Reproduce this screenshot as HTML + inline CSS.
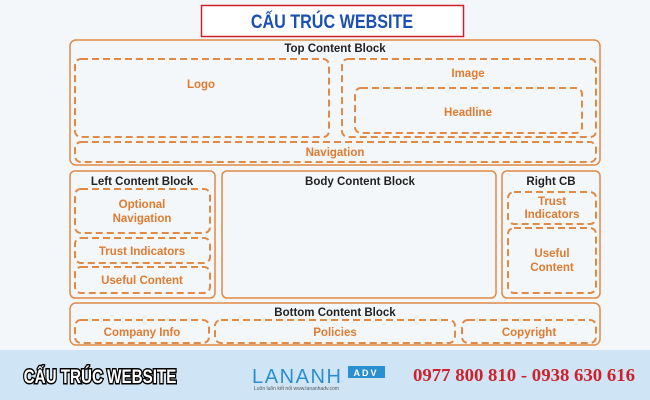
<!DOCTYPE html>
<html><head><meta charset="utf-8"><style>
body{margin:0;width:650px;height:400px;overflow:hidden;background:#f4f7fa;}
svg{display:block}
text{font-family:"Liberation Sans",sans-serif;font-weight:bold;}
</style></head><body>
<svg width="650" height="400" viewBox="0 0 650 400">
<rect x="0" y="0" width="650" height="400" fill="#f4f7fa"/>
<rect x="201.5" y="5.5" width="262" height="31" fill="#fff" stroke="#d0202a" stroke-width="1.5"/>
<text x="332" y="28" text-anchor="middle" font-size="19" fill="#1a4fb5" transform="translate(332 0) scale(0.85 1) translate(-332 0)">CẤU TRÚC WEBSITE</text>
<g fill="none" stroke="#e08a45" stroke-width="1.5">
<rect x="70" y="40" width="530" height="125" rx="6"/>
<rect x="70" y="171" width="145" height="127" rx="5"/>
<rect x="222" y="171" width="274" height="127" rx="5"/>
<rect x="502" y="171" width="98" height="127" rx="5"/>
<rect x="70" y="303" width="530" height="42" rx="6"/>
</g>
<g fill="none" stroke="#e08a45" stroke-width="2" stroke-dasharray="7 4">
<rect x="75" y="59" width="254" height="78" rx="6"/>
<rect x="342" y="59" width="254" height="78" rx="6"/>
<rect x="355" y="88" width="227" height="45" rx="6"/>
<rect x="75" y="142" width="521" height="20" rx="6"/>
<rect x="75" y="189" width="135" height="44" rx="6"/>
<rect x="75" y="238" width="135" height="25" rx="6"/>
<rect x="75" y="267" width="135" height="26" rx="6"/>
<rect x="508" y="192" width="88" height="32" rx="6"/>
<rect x="508" y="228" width="88" height="65" rx="6"/>
<rect x="75" y="320" width="134" height="23" rx="6"/>
<rect x="215" y="320" width="240" height="23" rx="6"/>
<rect x="462" y="320" width="134" height="23" rx="6"/>
</g>
<g font-size="11.5" fill="#222" text-anchor="middle">
<text x="335" y="52">Top Content Block</text>
<text x="142" y="185">Left Content Block</text>
<text x="360" y="185">Body Content Block</text>
<text x="551" y="185">Right CB</text>
<text x="335" y="316">Bottom Content Block</text>
</g>
<g font-size="11.5" fill="#e07b30" text-anchor="middle">
<text x="201" y="88">Logo</text>
<text x="468" y="77">Image</text>
<text x="468" y="116">Headline</text>
<text x="335" y="156">Navigation</text>
<text x="142" y="208">Optional</text>
<text x="142" y="222">Navigation</text>
<text x="142" y="255">Trust Indicators</text>
<text x="142" y="284">Useful Content</text>
<text x="552" y="205">Trust</text>
<text x="552" y="218">Indicators</text>
<text x="552" y="257">Useful</text>
<text x="552" y="271">Content</text>
<text x="142" y="336">Company Info</text>
<text x="335" y="336">Policies</text>
<text x="529" y="336">Copyright</text>
</g>
<rect x="0" y="350" width="650" height="50" fill="#cfe5f6"/>
<text x="100" y="383" text-anchor="middle" font-size="19" fill="#fff" stroke="#000" stroke-width="3" paint-order="stroke" transform="translate(100 0) scale(0.8 1) translate(-100 0)">CẤU TRÚC WEBSITE</text>
<text x="252" y="383" font-size="20" fill="#2a8fd0" style="font-weight:normal;letter-spacing:3px" textLength="92" lengthAdjust="spacing">LANANH</text>
<rect x="348" y="366" width="37" height="12" fill="#2a8fd0"/>
<text x="366" y="376" text-anchor="middle" font-size="9" fill="#fff" letter-spacing="2">ADV</text>
<text x="254" y="390" font-size="5" fill="#555" style="font-weight:normal">Luôn luôn kết nối   www.lananhadv.com</text>
<text x="524" y="381" text-anchor="middle" font-size="18" fill="#d0202a" textLength="222" lengthAdjust="spacingAndGlyphs" style="font-family:'Liberation Serif',serif">0977 800 810 - 0938 630 616</text>
</svg>
</body></html>
